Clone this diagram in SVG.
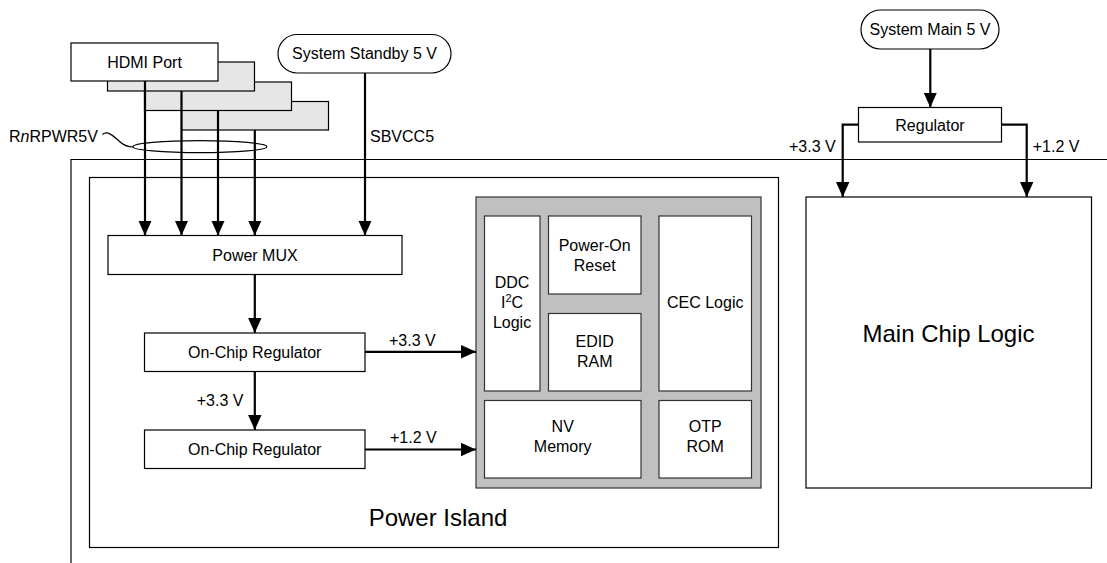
<svg xmlns="http://www.w3.org/2000/svg" width="1107" height="563" viewBox="0 0 1107 563">
<defs>
<marker id="arr" markerUnits="userSpaceOnUse" markerWidth="15" markerHeight="14" refX="15" refY="7" orient="auto">
<path d="M0,0.3 L15,7 L0,13.7 z" fill="#000"/>
</marker>
<style>
text{font-family:"Liberation Sans",Arial,sans-serif;font-size:16px;fill:#000}
.c{text-anchor:middle}
.big{font-size:24px}
.box{fill:#fff;stroke:#000;stroke-width:1.2}
.sh{fill:#e6e6e6;stroke:#000;stroke-width:1.2}
.inner{fill:#fff;stroke:#333;stroke-width:1.2}
.wire{fill:none;stroke:#000;stroke-width:2}
.arrow{fill:none;stroke:#000;stroke-width:2.2;marker-end:url(#arr)}
.thin{fill:none;stroke:#000;stroke-width:1.2}
</style>
</defs>
<rect width="1107" height="563" fill="#fff"/>

<!-- outer chip boundary -->
<g id="chip-boundary">
<path class="thin" d="M71,563 L71,159.5 L1107,159.5"/>
</g>

<g id="power-island">
<rect class="thin" x="89.5" y="177.5" width="689" height="370" fill="none"/>
<text class="c big" x="438" y="526">Power Island</text>
</g>

<!-- HDMI ports (stacked) -->
<g id="hdmi-port-4"><rect class="sh" x="181.5" y="101.5" width="147" height="28.5"/></g>
<g id="hdmi-port-3"><rect class="sh" x="144.5" y="82" width="147" height="28.5"/></g>
<g id="hdmi-port-2"><rect class="sh" x="107.5" y="62" width="147" height="29"/></g>
<g id="hdmi-port">
<rect class="box" x="71" y="43" width="147" height="38"/>
<text class="c" x="144.5" y="67.7">HDMI Port</text>
</g>

<g id="system-standby">
<rect class="box" x="278" y="34.5" width="173" height="38.5" rx="19.25"/>
<text class="c" x="364.5" y="59.3">System Standby 5 V</text>
</g>

<g id="system-main">
<rect class="box" x="861" y="10" width="138" height="39" rx="19.5"/>
<text class="c" x="930" y="35">System Main 5 V</text>
</g>

<g id="regulator">
<rect class="box" x="858.5" y="107.5" width="143" height="34.5"/>
<text class="c" x="930" y="130.5">Regulator</text>
</g>

<g id="main-chip-logic">
<rect class="box" x="806" y="197" width="285.5" height="291"/>
<text class="c big" x="948.5" y="341.7">Main Chip Logic</text>
</g>

<g id="power-mux">
<rect class="box" x="108" y="235.5" width="294" height="39"/>
<text class="c" x="255" y="260.5">Power MUX</text>
</g>

<g id="on-chip-regulator-1">
<rect class="box" x="144.5" y="333" width="220.5" height="38.5"/>
<text class="c" x="254.7" y="357.7">On-Chip Regulator</text>
</g>

<g id="on-chip-regulator-2">
<rect class="box" x="144.5" y="430" width="220.5" height="38.5"/>
<text class="c" x="254.7" y="455">On-Chip Regulator</text>
</g>

<g id="always-on-block">
<rect x="476" y="197" width="285" height="291" fill="#c0c0c0" stroke="#333" stroke-width="1.2"/>
</g>

<g id="ddc-logic">
<rect class="inner" x="484.5" y="216" width="55.5" height="175"/>
<text class="c" x="512" y="288.3">DDC</text>
<text class="c" x="512" y="308.3">I<tspan font-size="11" dy="-6">2</tspan><tspan dy="6">C</tspan></text>
<text class="c" x="512" y="328">Logic</text>
</g>

<g id="power-on-reset">
<rect class="inner" x="548.5" y="216" width="92.5" height="78"/>
<text class="c" x="594.7" y="250.7">Power-On</text>
<text class="c" x="594.7" y="270.7">Reset</text>
</g>

<g id="edid-ram">
<rect class="inner" x="548.5" y="313.5" width="92.5" height="77.5"/>
<text class="c" x="594.7" y="346.7">EDID</text>
<text class="c" x="594.7" y="366.7">RAM</text>
</g>

<g id="cec-logic">
<rect class="inner" x="659" y="216" width="92.5" height="175"/>
<text class="c" x="705.2" y="308.3">CEC Logic</text>
</g>

<g id="nv-memory">
<rect class="inner" x="484.5" y="400.5" width="156.5" height="77.5"/>
<text class="c" x="562.7" y="431.7">NV</text>
<text class="c" x="562.7" y="451.7">Memory</text>
</g>

<g id="otp-rom">
<rect class="inner" x="659" y="400.5" width="92.5" height="77.5"/>
<text class="c" x="705.2" y="431.7">OTP</text>
<text class="c" x="705.2" y="451.7">ROM</text>
</g>

<g id="connectors">
<line class="arrow" x1="145" y1="81" x2="145" y2="235.5"/>
<line class="arrow" x1="181.5" y1="91" x2="181.5" y2="235.5"/>
<line class="arrow" x1="218" y1="110.5" x2="218" y2="235.5"/>
<line class="arrow" x1="254.8" y1="130" x2="254.8" y2="235.5"/>
<line class="arrow" x1="365" y1="73" x2="365" y2="235.5"/>
<line class="arrow" x1="254.8" y1="274.5" x2="254.8" y2="333"/>
<line class="arrow" x1="254.8" y1="371.5" x2="254.8" y2="430"/>
<line class="arrow" x1="365" y1="351.8" x2="476" y2="351.8"/>
<line class="arrow" x1="365" y1="449.5" x2="476" y2="449.5"/>
<line class="arrow" x1="930.3" y1="49" x2="930.3" y2="107.5"/>
<polyline class="arrow" points="858.5,124.7 842.7,124.7 842.7,197"/>
<polyline class="arrow" points="1001.5,124.7 1026.7,124.7 1026.7,197"/>
<ellipse cx="200" cy="146.7" rx="67" ry="6" fill="none" stroke="#000" stroke-width="1.2"/>
<path d="M102.5,134.5 C108,130 113,136 119,141 C123,145 128,147 133.5,147" fill="none" stroke="#000" stroke-width="1.2"/>
</g>

<g id="labels">
<text x="9" y="141.5">R<tspan font-style="italic">n</tspan>RPWR5V</text>
<text x="370" y="141.7">SBVCC5</text>
<text x="389" y="346">+3.3 V</text>
<text x="196.7" y="406">+3.3 V</text>
<text x="390" y="443.3">+1.2 V</text>
<text x="789" y="151.7">+3.3 V</text>
<text x="1032.7" y="151.7">+1.2 V</text>
</g>
</svg>
